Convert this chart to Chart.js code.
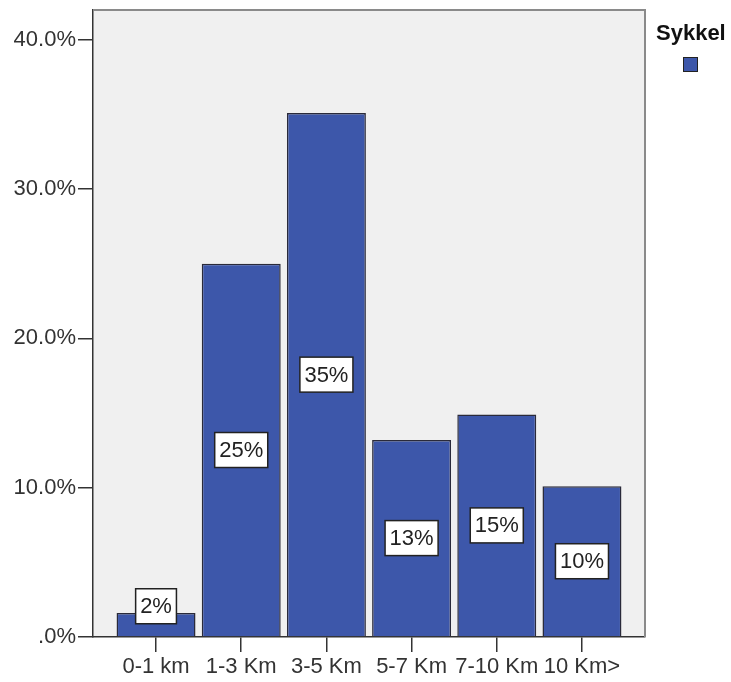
<!DOCTYPE html>
<html>
<head>
<meta charset="utf-8">
<script src="https://cdn.jsdelivr.net/npm/chart.js@4/dist/chart.umd.min.js"></script>
<style>
  body { margin: 0; background: white; }
  #wrap { width: 731px; height: 682px; }
</style>
</head>
<body>
<div id="wrap"><canvas id="myChart"></canvas></div>
<script>
// data
const categories = ["0-1 km", "1-3 Km", "3-5 Km", "5-7 Km", "7-10 Km", "10 Km>"];
const sykkel = [1.6, 25.0, 35.1, 13.2, 14.9, 10.1];
const yTicks = [0, 10, 20, 30, 40];
const seriesName = "Sykkel";

const barColor = "#3d57aa";
const font = "'Liberation Sans', Arial, sans-serif";

// grey plot background, the outer frame and the legend
const frame = {
    id: "frame",
    beforeDraw(c) {
        const a = c.chartArea, ctx = c.ctx;
        ctx.save();
        ctx.fillStyle = "#f0f0f0";
        ctx.fillRect(a.left, a.top, a.right - a.left, a.bottom - a.top);
        ctx.restore();
    },
    afterDraw(c) {
        const a = c.chartArea, ctx = c.ctx;
        ctx.save();
        ctx.strokeStyle = "#8a8a8a";
        ctx.lineWidth = 2;
        ctx.beginPath();
        ctx.moveTo(a.left, a.top);
        ctx.lineTo(a.right, a.top);
        ctx.lineTo(a.right, a.bottom);
        ctx.stroke();
        // legend
        ctx.fillStyle = "#111";
        ctx.font = "bold 22px " + font;
        ctx.textBaseline = "alphabetic";
        ctx.fillText(seriesName, a.right + 11, 40);
        ctx.fillStyle = barColor;
        ctx.fillRect(a.right + 38, 57, 14, 14);
        ctx.strokeStyle = "#222";
        ctx.lineWidth = 1;
        ctx.strokeRect(a.right + 38.5, 57.5, 14, 14);
        ctx.restore();
    }
};

// white value boxes inside the bars
const boxes = {
    id: "boxes",
    afterDatasetsDraw(c) {
        const ctx = c.ctx;
        const meta = c.getDatasetMeta(0);
        ctx.save();
        ctx.font = "22px " + font;
        ctx.textAlign = "center";
        ctx.textBaseline = "middle";
        meta.data.forEach((bar, i) => {
            const txt = Math.round(sykkel[i]) + "%";
            const w = ctx.measureText(txt).width + 9;
            const h = 35;
            let y = (bar.y + bar.base) / 2;
            y = Math.min(y, bar.base - 30);
            ctx.fillStyle = "white";
            ctx.fillRect(bar.x - w / 2, y - h / 2, w, h);
            ctx.strokeStyle = "#222";
            ctx.lineWidth = 1.5;
            ctx.strokeRect(bar.x - w / 2, y - h / 2, w, h);
            ctx.fillStyle = "#222";
            ctx.fillText(txt, bar.x, y + 1);
        });
        ctx.restore();
    }
};

const config = {
    type: "bar",
    data: {
        datasets: [{
            label: seriesName,
            data: sykkel.map((v, i) => ({ x: i, y: v })),
            backgroundColor: barColor,
            borderColor: "#2a2a3a",
            borderWidth: 1.5,
            categoryPercentage: 1,
            barPercentage: 0.927
        }]
    },
    options: {
        responsive: true,
        maintainAspectRatio: false,
        animation: false,
        layout: { padding: { top: 10, right: 86, left: 0, bottom: 0 } },
        plugins: {
            legend: { display: false },
            tooltip: { enabled: false }
        },
        scales: {
            x: {
                type: "linear",
                offset: false,
                min: -0.74,
                max: 5.74,
                afterBuildTicks: (s) => {
                    s.ticks = categories.map((c, i) => ({ value: i }));
                },
                afterFit: (s) => {
                    s.height = 45;
                    s.paddingLeft = 0;
                    s.paddingRight = 0;
                },
                grid: { offset: false, drawOnChartArea: false, tickLength: 15, color: "#333", lineWidth: 1.5 },
                border: { color: "#333", width: 1.5 },
                ticks: {
                    autoSkip: false,
                    maxRotation: 0,
                    padding: 2,
                    color: "#333",
                    font: { family: font, size: 22 },
                    callback: (v) => categories[v]
                }
            },
            y: {
                min: 0,
                max: 42,
                afterBuildTicks: (s) => {
                    s.ticks = yTicks.map(v => ({ value: v }));
                },
                afterFit: (s) => {
                    s.width = 93;
                    s.paddingTop = 0;
                    s.paddingBottom = 0;
                },
                grid: { drawOnChartArea: false, tickLength: 15, color: "#333", lineWidth: 1.5 },
                border: { color: "#333", width: 1.5 },
                ticks: {
                    padding: 2,
                    color: "#333",
                    font: { family: font, size: 22 },
                    callback: (v) => v === 0 ? ".0%" : v.toFixed(1) + "%"
                }
            }
        }
    },
    plugins: [frame, boxes]
};

window.onload = function () {
    const myChart = document.getElementById("myChart");
    new Chart(myChart, config);
};
</script>
</body>
</html>
